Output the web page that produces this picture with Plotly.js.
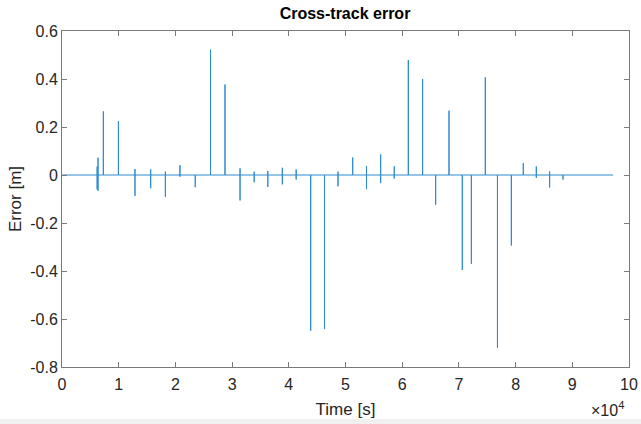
<!DOCTYPE html>
<html>
<head>
<meta charset="utf-8">
<script src="https://cdn.plot.ly/plotly-3.0.1.min.js"></script>
<style>html,body{margin:0;padding:0;background:#fff;}#chart{width:641px;height:424px;}</style>
</head>
<body>
<div id="chart"></div>
<script>
// Spike events: time (s), peak positive error (m), peak negative error (m)
const spikeTimes = [6200, 6350, 7290, 9950, 12870, 15640, 18230, 20800, 23500, 26200, 28750, 31400, 33900, 36300, 38860, 41300, 43860, 46300, 48680, 51270, 53700, 56200, 58600, 61080, 63600, 65900, 68260, 70600, 72200, 74660, 76800, 79250, 81360, 83650, 86000, 88360];
const spikeMax   = [0.035, 0.072, 0.265, 0.224, 0.025, 0.023, 0.014, 0.041, 0, 0.522, 0.377, 0.028, 0.014, 0.017, 0.030, 0.023, 0, 0, 0.014, 0.073, 0.037, 0.086, 0.036, 0.479, 0.400, 0, 0.268, 0, 0, 0.407, 0, 0, 0.050, 0.036, 0.015, 0];
const spikeMin   = [-0.060, -0.066, 0, 0, -0.087, -0.055, -0.091, -0.007, -0.051, 0, 0, -0.106, -0.030, -0.050, -0.039, -0.019, -0.649, -0.642, -0.047, 0, -0.059, -0.034, -0.015, 0, 0, -0.124, 0, -0.396, -0.370, 0, -0.720, -0.294, 0, -0.012, -0.052, -0.019];
const tStart = 0;
const tEnd = 97200;

const xTickVals = [0, 10000, 20000, 30000, 40000, 50000, 60000, 70000, 80000, 90000, 100000];
const xTickText = ['0', '1', '2', '3', '4', '5', '6', '7', '8', '9', '10'];
const yTickVals = [-0.8, -0.6, -0.4, -0.2, 0, 0.2, 0.4, 0.6];
const yTickText = ['-0.8', '-0.6', '-0.4', '-0.2', '0', '0.2', '0.4', '0.6'];

const xs = [tStart], ys = [0];
for (let i = 0; i < spikeTimes.length; i++) {
  const t = spikeTimes[i];
  xs.push(t, t, t, t);
  ys.push(0, spikeMax[i], spikeMin[i], 0);
}
xs.push(tEnd); ys.push(0);

const font = 'Liberation Sans, Arial, sans-serif';
const axisColor = '#7a7a7a';
const textColor = '#262626';

const trace = {
  x: xs, y: ys, type: 'scatter', mode: 'lines',
  line: {color: '#2f8ad0', width: 1},
  hoverinfo: 'skip'
};

const layout = {
  width: 641, height: 424,
  margin: {l: 62, r: 12, t: 31, b: 57, pad: 0},
  paper_bgcolor: '#ffffff', plot_bgcolor: '#ffffff',
  showlegend: false,
  title: {
    text: '<b>Cross-track error</b>',
    font: {family: font, size: 16, color: '#000'},
    x: (345) / 641, xanchor: 'center', xref: 'container',
    y: 1 - 13 / 424, yanchor: 'middle', yref: 'container'
  },
  xaxis: {
    range: [0, 100000],
    tickmode: 'array', tickvals: xTickVals, ticktext: xTickText,
    ticks: 'inside', ticklen: 5, tickcolor: axisColor, tickwidth: 1,
    showline: true, linecolor: axisColor, linewidth: 1, mirror: 'ticks',
    showgrid: false, zeroline: false,
    ticklabelstandoff: 3,
    tickfont: {family: font, size: 16, color: textColor},
    title: {text: 'Time [s]', font: {family: font, size: 17, color: textColor}, standoff: 10}
  },
  yaxis: {
    range: [-0.8, 0.6],
    tickmode: 'array', tickvals: yTickVals, ticktext: yTickText,
    ticks: 'inside', ticklen: 5, tickcolor: axisColor, tickwidth: 1,
    showline: true, linecolor: axisColor, linewidth: 1, mirror: 'ticks',
    showgrid: false, zeroline: false,
    tickfont: {family: font, size: 16, color: textColor},
    title: {text: 'Error [m]', font: {family: font, size: 17, color: textColor}, standoff: 4}
  },
  annotations: [{
    text: '\u00d710<sup>4</sup>', showarrow: false,
    xref: 'paper', yref: 'paper',
    x: (607 - 62) / 567, y: -(409 - 367) / 336,
    xanchor: 'center', yanchor: 'middle',
    font: {family: font, size: 16, color: textColor}
  }],
  shapes: [{
    type: 'rect', xref: 'paper', yref: 'paper', layer: 'below',
    x0: -0.2, x1: 1.1, y0: -(419 - 367) / 336, y1: -(430 - 367) / 336,
    fillcolor: '#f0f0f0', line: {width: 0}
  }]
};

Plotly.newPlot('chart', [trace], layout, {displayModeBar: false, staticPlot: true});
</script>
</body>
</html>
